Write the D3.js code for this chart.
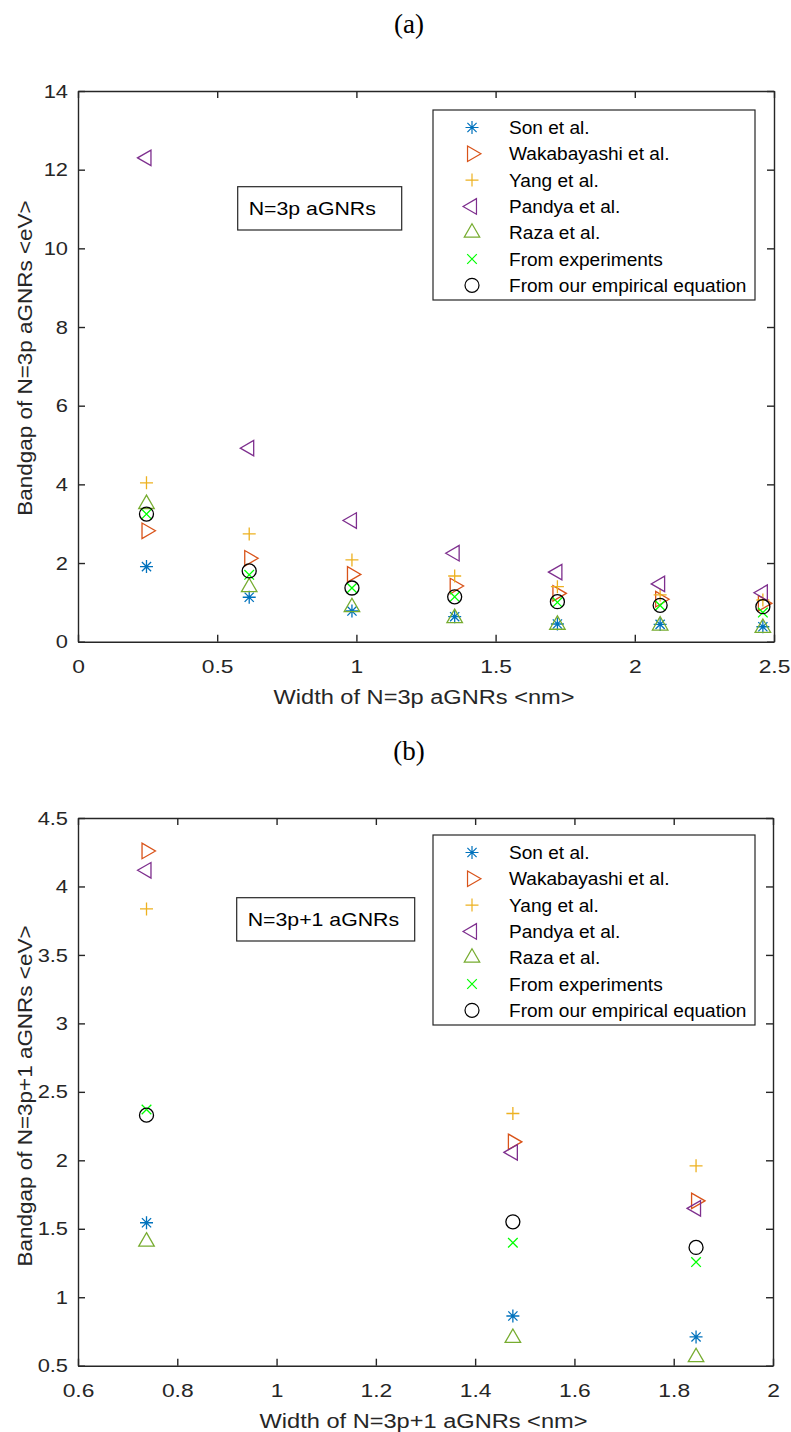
<!DOCTYPE html>
<html>
<head>
<meta charset="utf-8">
<script src="https://cdn.jsdelivr.net/npm/d3@7"></script>
<style>
  html, body { margin: 0; padding: 0; background: #fff; }
  svg { display: block; }
  text { font-family: "Liberation Sans", Arial, sans-serif; fill: #262626; }
</style>
</head>
<body>
<svg id="fig" width="791" height="1432"></svg>
<script>
// ---- Panel (a): N = 3p armchair GNRs ----
const width3p   = [0.246, 0.615, 0.984, 1.353, 1.722, 2.091, 2.460];
const son3p     = [1.91, 1.13, 0.78, 0.635, 0.45, 0.44, 0.38];
const waka3p    = [2.82, 2.12, 1.71, 1.415, 1.23, 1.08, 0.975];
const yang3p    = [4.04, 2.74, 2.08, 1.67, 1.40, 1.19, 1.06];
const pandya3p  = [12.30, 4.92, 3.08, 2.25, 1.77, 1.47, 1.245];
const raza3p    = [3.50, 1.385, 0.877, 0.60, 0.43, 0.41, 0.35];
const exp3p     = [3.245, 1.70, 1.365, 1.14, 1.00, 0.92, 0.74];
const ours3p    = [3.245, 1.80, 1.365, 1.14, 1.017, 0.925, 0.89];
const xTicksA   = [0, 0.5, 1, 1.5, 2, 2.5];
const yTicksA   = [0, 2, 4, 6, 8, 10, 12, 14];

// ---- Panel (b): N = 3p+1 armchair GNRs ----
const width3p1  = [0.738, 1.476, 1.845];
const son3p1    = [1.544, 0.863, 0.71];
const waka3p1   = [4.259, 2.135, 1.704];
const yang3p1   = [3.836, 2.342, 1.96];
const pandya3p1 = [4.118, 2.058, 1.649];
const raza3p1   = [1.406, 0.703, 0.562];
const exp3p1    = [2.371, 1.398, 1.257];
const ours3p1   = [2.33, 1.551, 1.364];
const xTicksB   = [0.6, 0.8, 1, 1.2, 1.4, 1.6, 1.8, 2];
const yTicksB   = [0.5, 1, 1.5, 2, 2.5, 3, 3.5, 4, 4.5];

const seriesNames = ["Son et al.", "Wakabayashi et al.", "Yang et al.", "Pandya et al.",
                     "Raza et al.", "From experiments", "From our empirical equation"];
const markerKinds = ["asterisk", "triRight", "plus", "triLeft", "triUp", "cross", "circle"];
const markerColors = ["#0072BD", "#D95319", "#EDB120", "#7E2F8E", "#77AC30", "#00FF00", "#000000"];

const svg = d3.select("#fig");
const axisColor = "#262626";

// Widen glyphs along the text direction by a factor f
function stretch(sel, f) {
  sel.each(function () {
    const L = this.getComputedTextLength();
    if (L > 0) d3.select(this).attr("textLength", L * f).attr("lengthAdjust", "spacingAndGlyphs");
  });
}

// Marker path generators, centred on the data point (triangles on their centroid)
function markerPath(kind) {
  const s = 15.5, h = s * Math.sqrt(3) / 2;
  const p = d3.path();
  switch (kind) {
    case "circle":
      p.arc(0, 0, 7, 0, 2 * Math.PI); p.closePath(); break;
    case "plus":
      p.moveTo(-6.5, 0); p.lineTo(6.5, 0); p.moveTo(0, -6.5); p.lineTo(0, 6.5); break;
    case "cross":
      p.moveTo(-4.8, -4.8); p.lineTo(4.8, 4.8); p.moveTo(-4.8, 4.8); p.lineTo(4.8, -4.8); break;
    case "asterisk":
      p.moveTo(-6.5, 0); p.lineTo(6.5, 0); p.moveTo(0, -6.5); p.lineTo(0, 6.5);
      p.moveTo(-4.6, -4.6); p.lineTo(4.6, 4.6); p.moveTo(-4.6, 4.6); p.lineTo(4.6, -4.6); break;
    case "triUp":
      p.moveTo(0, -2 * h / 3); p.lineTo(s / 2, h / 3); p.lineTo(-s / 2, h / 3); p.closePath(); break;
    case "triRight":
      p.moveTo(2 * h / 3, 0); p.lineTo(-h / 3, s / 2); p.lineTo(-h / 3, -s / 2); p.closePath(); break;
    case "triLeft":
      p.moveTo(-2 * h / 3, 0); p.lineTo(h / 3, s / 2); p.lineTo(h / 3, -s / 2); p.closePath(); break;
  }
  return p.toString();
}

function drawPanel(cfg) {
  const { left, right, top, bottom, xDomain, yDomain, xTicks, yTicks,
          widths, series, xLabel, yLabel, yLabelY, note, noteBox, legendBox, title } = cfg;
  const x = d3.scaleLinear().domain(xDomain).range([left, right]);
  const y = d3.scaleLinear().domain(yDomain).range([bottom, top]);
  const g = svg.append("g");

  const fmt = d => String(d);

  // frame with inward ticks on all four sides
  const axB = g.append("g").attr("transform", `translate(0,${bottom})`)
    .call(d3.axisBottom(x).tickValues(xTicks).tickFormat(fmt).tickSizeInner(-7).tickSizeOuter(0).tickPadding(18));
  const axL = g.append("g").attr("transform", `translate(${left},0)`)
    .call(d3.axisLeft(y).tickValues(yTicks).tickFormat(fmt).tickSizeInner(-7).tickSizeOuter(0).tickPadding(10));
  const axT = g.append("g").attr("transform", `translate(0,${top})`)
    .call(d3.axisTop(x).tickValues(xTicks).tickFormat("").tickSizeInner(-7).tickSizeOuter(0));
  const axR = g.append("g").attr("transform", `translate(${right},0)`)
    .call(d3.axisRight(y).tickValues(yTicks).tickFormat("").tickSizeInner(-7).tickSizeOuter(0));
  [axB, axL, axT, axR].forEach(a => {
    a.selectAll("path.domain").attr("stroke", axisColor).attr("stroke-width", 1.4);
    a.selectAll(".tick line").attr("stroke", axisColor).attr("stroke-width", 1.4);
    a.selectAll(".tick text").attr("fill", axisColor)
      .style("font-family", "'Liberation Sans', Arial, sans-serif").style("font-size", "19px");
  });
  stretch(axB.selectAll(".tick text"), 1.2);
  stretch(axL.selectAll(".tick text"), 1.15);

  // axis labels
  const xl = g.append("text").attr("x", (left + right) / 2 - 2).attr("y", bottom + 62)
    .attr("text-anchor", "middle").style("font-size", "20px").text(xLabel);
  stretch(xl, 1.18);
  const yl = g.append("text").attr("transform", `translate(${left - 46},${yLabelY}) rotate(-90)`)
    .attr("text-anchor", "middle").style("font-size", "21px").text(yLabel);
  stretch(yl, 1.07);

  // panel title
  g.append("text").attr("x", 409).attr("y", title.y).attr("text-anchor", "middle")
    .style("font-family", "'Liberation Serif', 'Times New Roman', serif").style("font-size", "27px")
    .style("fill", "#000").text(title.text);

  // data markers, one series after another
  series.forEach((vals, i) => {
    g.append("g").selectAll("path").data(vals).join("path")
      .attr("transform", (v, j) => `translate(${x(widths[j])},${y(v)})`)
      .attr("d", markerPath(markerKinds[i]))
      .attr("fill", "none").attr("stroke", markerColors[i]).attr("stroke-width", 1.3);
  });

  // annotation box
  g.append("rect").attr("x", noteBox.x).attr("y", noteBox.y).attr("width", noteBox.w).attr("height", noteBox.h)
    .attr("fill", "#fff").attr("stroke", axisColor).attr("stroke-width", 1.2);
  const nt = g.append("text").attr("x", noteBox.x + 11).attr("y", noteBox.y + 28)
    .style("font-size", "19px").style("fill", "#000").text(note);
  stretch(nt, 1.12);

  // legend
  const lg = g.append("g");
  lg.append("rect").attr("x", legendBox.x).attr("y", legendBox.y).attr("width", legendBox.w).attr("height", legendBox.h)
    .attr("fill", "#fff").attr("stroke", axisColor).attr("stroke-width", 1.2);
  seriesNames.forEach((name, i) => {
    const cy = legendBox.y + 17.5 + i * 26.3;
    lg.append("path").attr("transform", `translate(${legendBox.x + 39},${cy})`)
      .attr("d", markerPath(markerKinds[i]))
      .attr("fill", "none").attr("stroke", markerColors[i]).attr("stroke-width", 1.2);
    const t = lg.append("text").attr("x", legendBox.x + 76).attr("y", cy + 6.5)
      .style("font-size", "17.5px").style("fill", "#000").text(name);
    stretch(t, 1.09);
  });
}

drawPanel({
  left: 78, right: 774, top: 91, bottom: 641.7,
  xDomain: [0, 2.5], yDomain: [0, 14], xTicks: xTicksA, yTicks: yTicksA,
  widths: width3p,
  series: [son3p, waka3p, yang3p, pandya3p, raza3p, exp3p, ours3p],
  xLabel: "Width of N=3p aGNRs <nm>", yLabel: "Bandgap of N=3p aGNRs <eV>", yLabelY: 358,
  note: "N=3p aGNRs", noteBox: { x: 237.7, y: 186.7, w: 164, h: 43.3 },
  legendBox: { x: 433, y: 110, w: 322, h: 190 },
  title: { text: "(a)", y: 33 }
});

drawPanel({
  left: 78, right: 773, top: 818, bottom: 1365.7,
  xDomain: [0.6, 2], yDomain: [0.5, 4.5], xTicks: xTicksB, yTicks: yTicksB,
  widths: width3p1,
  series: [son3p1, waka3p1, yang3p1, pandya3p1, raza3p1, exp3p1, ours3p1],
  xLabel: "Width of N=3p+1 aGNRs <nm>", yLabel: "Bandgap of N=3p+1 aGNRs <eV>", yLabelY: 1096,
  note: "N=3p+1 aGNRs", noteBox: { x: 236.7, y: 897.7, w: 178, h: 43.3 },
  legendBox: { x: 433, y: 835, w: 322, h: 190 },
  title: { text: "(b)", y: 760 }
});
</script>
</body>
</html>
